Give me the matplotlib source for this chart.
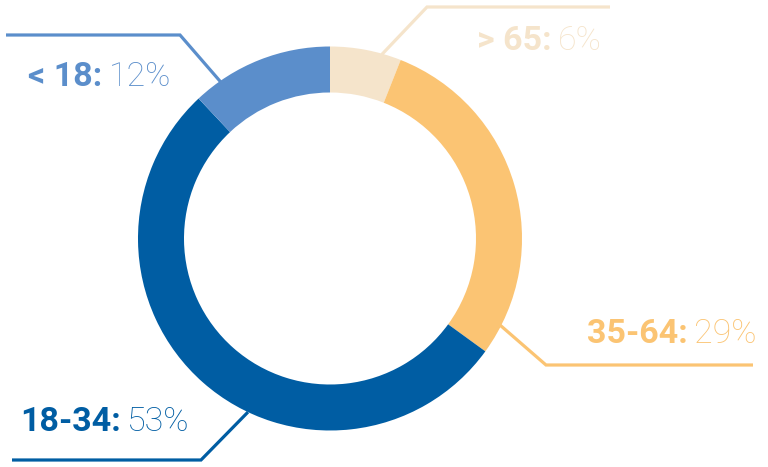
import matplotlib
matplotlib.use("Agg")
import matplotlib.pyplot as plt
import numpy as np

# ---- data ----
categories = ["> 65", "35-64", "18-34", "< 18"]
shares = [6, 29, 53, 12]
value_labels = ["6%", "29%", "53%", "12%"]
colors = ["#F5E4CB", "#FBC473", "#005DA3", "#5B8ECB"]

# ---- layout (pixel coordinates, y downwards) ----
W, H = 768, 467
cx, cy = 330, 238.5
r_out = 192
ring_w = 46
# label text: left x, baseline y
label_pos = [(477, 50), (587, 343), (20, 431), (28, 86)]
# leader lines: (horizontal start x, elbow x, elbow y, anchor angle deg on ring, anchor radius)
leaders = [
    (610, 427, 7, 74.3, 191),
    (753, 546, 365, -27.0, 191),
    (12, 201, 460, -115.3, 192),
    (6, 180, 35, 124.7, 184),
]

fig = plt.figure(figsize=(W / 100, H / 100), dpi=100)
ax = fig.add_axes([0, 0, 1, 1])

ax.pie(shares, colors=colors, radius=r_out, center=(cx, cy),
       startangle=-90, counterclock=True,
       wedgeprops=dict(width=ring_w, linewidth=0))

ax.set_xlim(0, W)
ax.set_ylim(H, 0)
ax.set_aspect("equal")
ax.axis("off")

for (hx, ex, ey, ang, rr), col in zip(leaders, colors):
    a = np.deg2rad(ang)
    px = cx + rr * np.cos(a)
    py = cy - rr * np.sin(a)
    ax.plot([hx, ex, px], [ey, ey, py], color=col, lw=2.3,
            solid_capstyle="butt", solid_joinstyle="miter", zorder=1)

fs = 24.5
for cat, val, (tx, ty), col in zip(categories, value_labels, label_pos, colors):
    t1 = ax.text(tx, ty, cat + ":", color=col, fontsize=fs,
                 fontfamily="Roboto", fontweight="bold",
                 ha="left", va="baseline")
    ax.annotate(val, xy=(1, 0), xycoords=t1, xytext=(4.5, 0),
                textcoords="offset points", color=col, fontsize=fs,
                fontfamily="Roboto", fontweight="light",
                ha="left", va="bottom")

fig.savefig("out.png", dpi=100)
